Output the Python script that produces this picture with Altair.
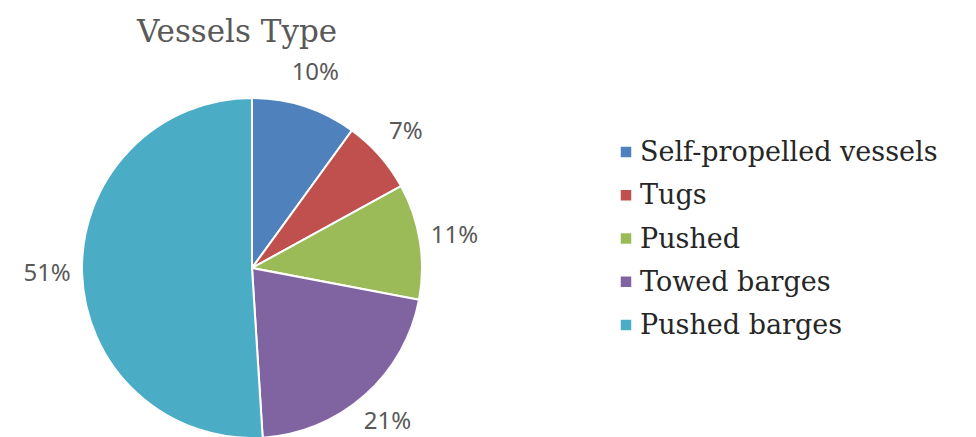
import altair as alt
import pandas as pd

categories = ["Self-propelled vessels", "Tugs", "Pushed", "Towed barges", "Pushed barges"]
values = [10, 7, 11, 21, 51]
labels = ["10%", "7%", "11%", "21%", "51%"]
colors = ["#4F81BD", "#C0504D", "#9BBB59", "#8064A2", "#4BACC6"]

df = pd.DataFrame({"category": categories, "value": values, "label": labels,
                   "order": list(range(len(categories)))})

color = alt.Color("category:N", sort=categories,
                  scale=alt.Scale(domain=categories, range=colors), legend=None)

base = alt.Chart(df).encode(
    theta=alt.Theta("value:Q", stack=True),
    order=alt.Order("order:Q"),
)

pie = base.mark_arc(outerRadius=170, stroke="white", strokeWidth=2).encode(
    x=alt.value(244), y=alt.value(260), color=color,
)

text = base.mark_text(radius=205, dy=0, fontSize=24, font="Noto Sans", color="#595959").encode(
    x=alt.value(244), y=alt.value(260),
    text="label:N",
)

legend_y = alt.Y("category:N", sort=categories, axis=None,
                 scale=alt.Scale(type="point", domain=categories, range=[144, 317], padding=0))

leg_sq = alt.Chart(df).mark_square(size=110, opacity=1).encode(
    x=alt.value(618), y=legend_y, color=color,
)

leg_txt = alt.Chart(df).mark_text(align="left", baseline="middle", fontSize=27,
                                  font="DejaVu Serif",
                                  color="#262626", dy=1).encode(
    x=alt.value(632), y=legend_y, text="category:N",
)

chart = alt.layer(pie, text, leg_sq, leg_txt).properties(
    width=960, height=429, padding=0, autosize=alt.AutoSizeParams(type="none"),
    title=alt.TitleParams("Vessels Type", anchor="start", dx=129, dy=45,
                          fontSize=31, font="DejaVu Serif", fontWeight="normal",
                          color="#595959"),
).configure_view(stroke=None)

chart.save("out.html", embed_options={"renderer": "svg", "actions": False})
